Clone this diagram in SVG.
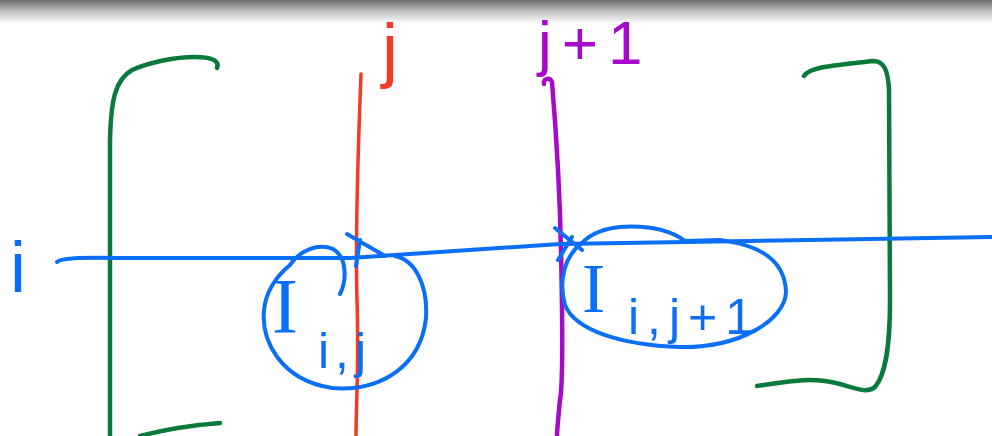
<svg xmlns="http://www.w3.org/2000/svg" width="992" height="436" viewBox="0 0 992 436">
<defs>
<linearGradient id="top" x1="0" y1="0" x2="0" y2="1">
<stop offset="0" stop-color="#6e6e6e"/>
<stop offset="0.5" stop-color="#c4c4c4"/>
<stop offset="1" stop-color="#ffffff"/>
</linearGradient>
</defs>
<style>
.s{fill:none;stroke-linecap:round;stroke-linejoin:round}
.g{stroke:#0a7a3c;stroke-width:4.5}
.r{stroke:#f23b22;stroke-width:3.5}
.p{stroke:#a608cc;stroke-width:4.5}
.b{stroke:#0a6ff6;stroke-width:4}
.t{font-family:"Liberation Sans","DejaVu Sans",sans-serif}
.tb{fill:#0a6ff6}
</style>
<rect width="992" height="436" fill="#ffffff"/>
<rect width="992" height="24" fill="url(#top)"/>

<g id="bracket-left">
<path class="s g" d="M217 68 C220 60 210 57 195 57 C175 57 150 62 132 70 C115 80 111 100 110 140 L110 436"/>
<path class="s g" d="M140 436 C170 428 195 425 220 423"/>
</g>
<g id="bracket-right">
<path class="s g" d="M804 76 C810 67 830 66 873 61 C884 61 888 70 889 90 L890 300 C890 350 885 375 875 387 C868 393 860 390 840 384 C810 376 785 382 757 386"/>
</g>

<g id="column-j">
<path class="s r" d="M361 74 C358 150 355 230 357 300 C359 360 356 410 356 436"/>
<text class="t" x="382" y="74" font-size="72" fill="#f23b22">j</text>
</g>
<g id="column-j1">
<path class="s p" d="M544 84 C543 78 550 77 552 82 C556 130 560 200 561 250 C562 300 564 380 560 400 C558 420 557 430 557 436"/>
<text class="t" x="538" y="64" font-size="62" fill="#a608cc" letter-spacing="10">j+1</text>
</g>
<g id="row-i">
<path class="s b" d="M57 262 C60 258 80 257 120 258 L350 258 L560 244 L992 237"/>
<text class="t tb" x="10" y="292" font-size="72">i</text>
</g>

<g id="element-ij">
<path class="s b" d="M347 234 L385 256 M360 240 L356 266"/>
<path class="s b" d="M290 265 C278 275 266 290 264 310 C261 340 280 380 332 388 C382 392 421 365 426 318 C428 285 415 260 395 256"/>
<path class="s b" d="M290 265 C300 250 318 243 333 249 C347 257 347 280 340 294"/>
<text font-family="Liberation Serif, serif" class="tb" x="272" y="332" font-size="78">I</text>
<text class="t tb" x="318" y="368" font-size="50" letter-spacing="6">i,j</text>
</g>
<g id="element-ij1">
<path class="s b" d="M555 228 L582 250 M572 237 L558 260"/>
<path class="s b" d="M583 242 C565 255 558 280 565 305 C575 330 620 345 680 347 C740 348 785 320 786 292 C785 260 760 245 720 240 L685 241 C670 230 650 225 620 227 C600 229 590 235 583 242"/>
<text font-family="Liberation Serif, serif" class="tb" x="582" y="312" font-size="70">I</text>
<text class="t tb" x="628" y="334" font-size="50" letter-spacing="8">i,j+1</text>
</g>
</svg>
